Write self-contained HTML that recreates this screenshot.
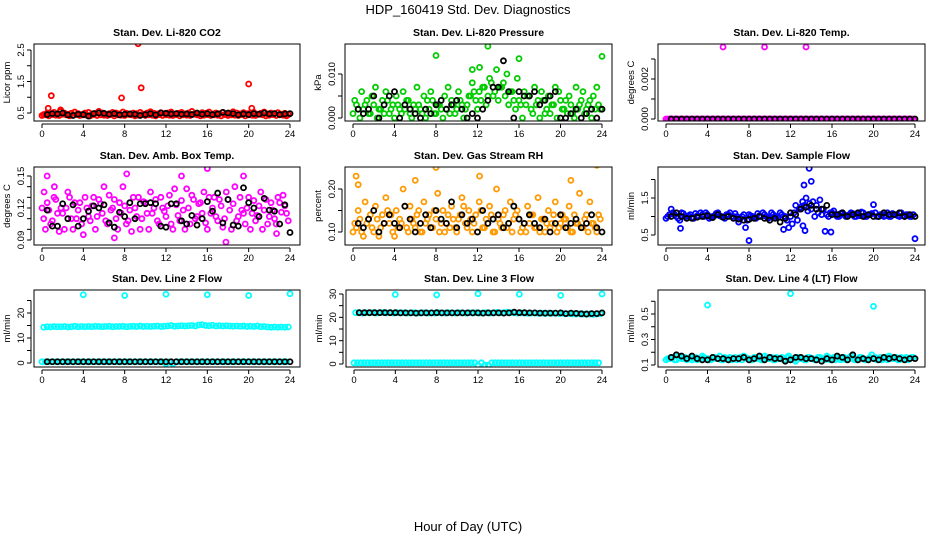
<!DOCTYPE html>
<html><head><meta charset="utf-8"><style>
body{margin:0;background:#fff;}
svg{display:block;font-family:"Liberation Sans",sans-serif;}
</style></head><body>
<svg id="c" width="936" height="540" viewBox="0 0 936 540">
<text x="468" y="14" text-anchor="middle" font-size="13">HDP_160419  Std. Dev. Diagnostics</text>
<text x="468" y="531" text-anchor="middle" font-size="13">Hour of Day (UTC)</text>
</svg>
<script>
// ---- data ----
const xTicks=[0,4,8,12,16,20,24];
const colorStep=1/3, blackStep=0.5, blackStart=0.5;
// P1 CO2
const co2Red=[.45,.5,.48,.52,.47,.55,.5,.46,.49,.53,.48,.45,.5,.52,.47,.49,.55,.5,.46,.48,.52,.5,.47,.53,.49,.45,.5,.48,.52,.46,.5,.54,.49,.47,.51,.48,.5,.53,.46,.49,.52,.47,.5,.55,.48,.46,.51,.49,.53,.47,.5,.48,.52,.46,.49,.54,.5,.47,.51,.48,.5,.52,.46,.49,.53,.47,.5,.48,.51,.46,.49,.45];
const co2Red2=[.42,.44,.41,.45,.43,.42,.46,.44,.41,.43,.45,.42,.44,.43,.41,.45,.42,.44,.43,.42,.45,.41,.44,.43,.42,.46,.44,.41,.43,.45,.42,.44,.43,.41,.45,.42,.44,.43,.42,.45,.41,.44,.43,.42,.46,.44,.41,.43,.45,.42,.44,.43,.41,.45,.42,.44,.43,.42,.45,.41,.44,.43,.42,.46,.44,.41,.43,.45,.42,.44,.43,.41];
const co2OutH=[0.6,0.9,7.7,9.3,9.6,20,20.3,1.8];
const co2OutV=[0.65,1.05,0.98,2.7,1.3,1.42,0.65,0.6];
const co2Black=[.45,.48,.47,.5,.44,.42,.46,.45,.4,.48,.5,.49,.46,.48,.44,.46,.47,.46,.42,.45,.48,.44,.5,.49,.47,.48,.46,.47,.45,.5,.46,.48,.45,.47,.52,.5,.48,.44,.47,.45,.48,.46,.5,.47,.48,.45,.47,.48];
// P2 Pressure
const prsA=[.004,.002,.006,.003,.001,.005,.007,.002,.004,.006,.001,.003,.005,.002,.006,.004,.001,.003,.007,.002,.005,.004,.006,.001,.003,.002,.005,.007,.004,.001,.006,.003,.002,.005,.008,.004,.006,.007,.003,.009,.005,.011,.007,.008,.01,.006,.004,.009,.003,.006,.005,.002,.007,.004,.006,.001,.005,.003,.007,.006,.002,.004,.005,.001,.007,.003,.006,.002,.004,.005,.007,.002];
const prsB=[.001,.003,0,.002,.004,.001,.003,0,.002,.001,.004,.002,0,.003,.001,.002,.004,0,.002,.003,.001,0,.002,.004,.001,.003,0,.002,.001,.003,.002,.004,0,.003,.005,.006,.002,.004,.007,.005,.008,.006,.004,.007,.005,.003,.006,.002,.004,0,.003,.005,.001,.003,0,.004,.002,.001,.003,0,.004,.002,.001,.003,0,.002,.004,.001,.003,0,.002,.003];
const prsOutH=[8,13,16,24,11.5,12.2];
const prsOutV=[.0142,.0163,.0135,.0140,.011,.0115];
const prsBlack=[.002,.001,.002,.005,0,.003,.005,.006,0,.003,.002,.001,0,.002,.001,.003,.004,.002,.003,.004,.002,0,.001,0,.002,.004,.007,.007,.013,.006,0,.006,.005,.005,.006,.003,.004,.005,.006,0,0,.001,.002,0,.001,.002,0,.002];
// P3 Temp
const tmpMag=[0,0,0,0,0,0,0,0,0,0,0,0,0,0,0,0,0,0,0,0,0,0,0,0,0,0,0,0,0,0,0,0,0,0,0,0,0,0,0,0,0,0,0,0,0,0,0,0,0,0,0,0,0,0,0,0,0,0,0,0,0,0,0,0,0,0,0,0,0,0,0,0];
const tmpOutH=[5.5,9.5,13.5];
const tmpOutV=[.0036,.0036,.0036];
const tmpBlack=[0,0,0,0,0,0,0,0,0,0,0,0,0,0,0,0,0,0,0,0,0,0,0,0,0,0,0,0,0,0,0,0,0,0,0,0,0,0,0,0,0,0,0,0,0,0,0,0];
// P4 Amb temp
const ambA=[.11,.125,.105,.13,.115,.12,.1,.135,.11,.125,.118,.105,.13,.112,.122,.1,.128,.115,.108,.132,.12,.11,.125,.14,.105,.118,.13,.112,.1,.126,.115,.135,.12,.108,.13,.117,.122,.105,.138,.113,.127,.1,.12,.132,.11,.124,.115,.106,.13,.12,.112,.128,.102,.135,.118,.124,.108,.13,.115,.12,.1,.127,.113,.135,.118,.105,.125,.11,.13,.116,.122,.108];
const ambB=[.12,.1,.118,.108,.128,.098,.115,.12,.13,.1,.11,.125,.095,.12,.108,.13,.112,.124,.14,.105,.118,.128,.1,.115,.122,.108,.098,.12,.13,.11,.125,.1,.115,.128,.105,.12,.112,.132,.1,.123,.108,.118,.138,.105,.128,.112,.125,.135,.1,.115,.13,.108,.122,.11,.128,.1,.14,.112,.118,.105,.13,.115,.108,.122,.1,.128,.112,.118,.105,.125,.132,.115];
const ambOutH=[0.5,8.2,13.5,16,19.5,7,17.8,0.2,1.2,22.7];
const ambOutV=[.15,.152,.15,.157,.15,.092,.088,.135,.14,.096];
const ambBlack=[.118,.103,.103,.124,.11,.123,.103,.11,.117,.122,.12,.123,.106,.102,.116,.112,.125,.11,.124,.124,.125,.124,.103,.102,.124,.124,.108,.105,.113,.104,.11,.126,.117,.134,.106,.128,.104,.103,.139,.125,.12,.112,.129,.118,.117,.105,.123,.097];
// P5 RH
const rhA=[.12,.15,.1,.17,.13,.11,.16,.09,.14,.18,.12,.1,.15,.13,.2,.11,.16,.12,.14,.1,.17,.13,.11,.15,.19,.12,.1,.14,.16,.11,.13,.18,.12,.15,.1,.14,.17,.11,.13,.16,.1,.2,.12,.14,.11,.17,.13,.15,.1,.12,.16,.14,.11,.18,.13,.1,.15,.12,.17,.11,.14,.13,.16,.1,.12,.19,.11,.14,.17,.12,.1,.13];
const rhB=[.1,.11,.13,.09,.12,.14,.1,.13,.11,.12,.15,.14,.09,.11,.12,.16,.1,.13,.11,.15,.1,.12,.14,.11,.13,.1,.15,.12,.11,.13,.1,.14,.16,.11,.13,.12,.1,.15,.11,.12,.14,.1,.13,.11,.15,.12,.1,.14,.13,.11,.1,.12,.14,.11,.1,.13,.12,.11,.14,.1,.12,.13,.11,.1,.14,.12,.11,.13,.1,.12,.11,.14];
const rhOutH=[0.3,0.5,8,12.2,23.5,6,21];
const rhOutV=[.23,.21,.25,.23,.255,.22,.22];
const rhBlack=[.12,.11,.13,.15,.1,.12,.14,.12,.11,.16,.13,.1,.12,.14,.11,.15,.13,.12,.17,.11,.14,.12,.13,.1,.15,.12,.13,.14,.11,.12,.16,.13,.12,.14,.12,.11,.13,.1,.12,.14,.11,.12,.13,.11,.12,.14,.11,.1];
// P6 Sample flow
const sfA=[1.0,1.2,1.05,.95,1.1,1.0,1.02,.98,1.08,1.0,1.05,1.1,.95,1.0,1.08,1.02,.98,1.05,1.1,1.0,1.0,.95,1.05,.9,1.02,.98,1.08,1.0,1.05,.95,1.1,1.0,.98,1.05,1.0,.7,.8,1.3,1.2,1.4,1.5,1.35,1.4,1.3,1.45,1.2,1.05,1.1,1.15,1.0,1.08,1.05,1.02,1.1,1.0,1.05,1.12,1.0,1.05,1.08,1.1,1.0,1.05,1.02,1.0,1.08,1.05,1.0,1.02,1.05,1.0,1.05];
const sfB=[.95,1.05,1.1,1.0,.9,1.08,1.0,1.05,.95,1.02,1.1,1.0,1.05,.98,1.02,1.1,1.0,.95,1.05,1.0,1.08,.85,1.0,.7,1.05,1.0,.95,1.02,1.1,1.0,.98,1.05,1.0,1.1,.65,.9,1.0,1.1,.9,1.25,1.3,1.15,1.2,1.0,1.1,1.05,.6,1.0,1.1,1.05,1.0,1.1,1.0,1.05,1.08,1.0,1.02,1.1,1.0,1.05,1.32,1.0,1.05,1.0,1.1,1.0,1.05,1.02,1.1,1.0,1.05,1.0];
const sfOutH=[8,24,13.8,14,13.3,1.4,15.9,13.2,13.4];
const sfOutV=[.35,.4,2.3,1.95,1.85,.68,.58,.75,.62];
const sfBlack=[1.0,1.1,1.0,.95,.95,.98,1.0,1.02,.97,1.05,.98,1.0,.95,.93,.9,.92,.95,1.0,.95,.9,.95,.85,.95,1.1,1.05,1.2,1.25,1.3,1.2,1.2,1.3,1.05,1.05,1.1,1.0,1.05,1.1,1.0,1.05,1.0,1.0,1.1,1.05,1.05,1.1,1.0,1.05,1.0];
// P7 Line 2
const l2Cyan=[14.3,14.5,14.4,14.6,14.5,14.5,14.6,14.4,14.5,14.7,14.5,14.6,14.5,14.6,14.5,14.7,14.6,14.5,14.6,14.7,14.5,14.6,14.6,14.7,14.5,14.6,14.7,14.6,14.8,14.6,14.7,14.6,14.7,14.8,14.6,14.7,14.8,15.0,14.7,14.8,14.9,14.8,14.9,15.0,14.8,15.2,15.3,15.0,14.9,15.1,14.8,14.9,14.8,14.9,14.8,14.7,14.8,14.7,14.8,14.6,14.7,14.6,14.8,14.5,14.6,14.4,14.3,14.4,14.3,14.4,14.3,14.4];
const l2CyanLow=[.5,.5,.5,.5,.5,.5,.5,.5,.5,.5,.5,.5,.5,.5,.5,.5,.5,.5,.5,.5,.5,.5,.5,.5,.5,.5,.5,.5,.5,.5,.5,.5,.5,.5,.5,.5,-.3,.5,-.3,.5,.5,.5,.5,.5,.5,.5,.5,.5,.5,.5,.5,.5,.5,.5,.5,.5,.5,.5,.5,.5,.5,.5,.5,.5,.5,.5,.5,.5,.5,.5,.5,.5];
const l2OutH=[4,8,12,16,20,24];
const l2OutV=[27.3,27,27.5,27.3,27,27.7];
const l2Black=[.5,.5,.5,.5,.5,.5,.5,.5,.5,.5,.5,.5,.5,.5,.5,.5,.5,.5,.5,.5,.5,.5,.5,.5,.5,.5,.5,.5,.5,.5,.5,.5,.5,.5,.5,.5,.5,.5,.5,.5,.5,.5,.5,.5,.5,.5,.5,.5];
// P8 Line 3
const l3CyanHi=[22,22,21.8,22,21.9,22,21.8,22,22.1,21.9,22,21.8,22,21.9,22,21.8,21.9,22,21.8,21.9,22,21.8,21.9,21.8,22,21.9,21.8,22,21.9,21.8,22,21.9,21.8,22,21.9,22,21.8,21.9,22,21.8,21.9,22.1,21.9,22,22.2,22,21.9,21.8,21.9,21.8,21.7,21.8,21.9,21.7,21.8,21.6,21.8,21.7,21.8,21.6,21.7,21.5,21.6,21.5,21.4,21.5,21.4,21.5,21.4,21.3,21.4,21.5];
const l3CyanLo=[.5,.5,.5,.5,.5,.5,.5,.5,.5,.5,.5,.5,.5,.5,.5,.5,.5,.5,.5,.5,.5,.5,.5,.5,.5,.5,.5,.5,.5,.5,.5,.5,.5,.5,.5,.5,-.5,.5,-.5,-.5,.5,.5,.5,.5,.5,.5,.5,.5,.5,.5,.5,.5,.5,.5,.5,.5,.5,.5,.5,.5,.5,.5,.5,.5,.5,.5,.5,.5,.5,.5,.5,.5];
const l3OutH=[4,8,12,16,20,24];
const l3OutV=[29.8,29.6,30.1,29.9,29.4,30];
const l3Black=[22,22,22,22,22,22,22,22,21.9,21.9,21.9,21.8,21.9,21.9,21.9,22,21.9,21.9,21.9,21.9,21.9,21.9,21.9,21.9,21.8,21.9,21.9,21.9,21.8,21.9,22.2,22,22,21.9,21.9,21.8,21.8,21.8,21.8,21.9,21.6,21.8,21.7,21.5,21.4,21.6,21.6,21.9];
// P9 Line 4
const l4Cyan=[.15,.16,.14,.17,.15,.16,.15,.14,.16,.15,.17,.15,.14,.16,.15,.17,.14,.15,.16,.15,.14,.16,.17,.15,.14,.16,.15,.14,.17,.15,.16,.14,.15,.16,.14,.17,.15,.13,.16,.15,.14,.16,.15,.14,.16,.15,.17,.14,.16,.15,.14,.16,.15,.17,.14,.15,.16,.14,.15,.18,.16,.15,.14,.16,.17,.15,.16,.14,.15,.16,.15,.16];
const l4Cyan2=[.14,.15,.16,.14,.16,.15,.14,.16,.15,.14,.15,.16,.15,.14,.16,.15,.14,.16,.15,.14,.16,.15,.14,.16,.15,.14,.16,.15,.14,.16,.15,.14,.16,.15,.14,.16,.15,.14,.16,.15,.14,.16,.15,.14,.16,.15,.14,.16,.15,.14,.16,.15,.14,.16,.15,.14,.16,.15,.14,.16,.15,.14,.16,.15,.14,.16,.15,.14,.16,.15,.14,.16];
const l4OutH=[4,12,20];
const l4OutV=[.57,.66,.56];
const l4Black=[.16,.18,.17,.15,.17,.15,.14,.14,.16,.15,.15,.14,.15,.15,.16,.14,.15,.17,.14,.16,.15,.15,.13,.14,.16,.16,.15,.15,.14,.13,.15,.14,.17,.16,.14,.18,.14,.15,.14,.15,.14,.16,.15,.16,.15,.14,.15,.15];

// ---- drawing ----
const NS="http://www.w3.org/2000/svg";
const svg=document.getElementById('c');
function mk(tag,attrs,parent){const e=document.createElementNS(NS,tag);for(const k in attrs)e.setAttribute(k,attrs[k]);(parent||svg).appendChild(e);return e;}

const panels=[
 {key:'co2',title:'Stan. Dev. Li-820 CO2',yl:'Licor ppm',L:34,T:44,R:300,B:121,v0:.5,p0:113,v1:2.5,p1:50,yt:[.5,1,1.5,2,2.5],ylab:{'0.5':'0.5','1.5':'1.5','2.5':'2.5'},col:'#ff0000',
  sets:[co2Red2,co2Red],oh:co2OutH,ov:co2OutV,blk:co2Black},
 {key:'pressure',title:'Stan. Dev. Li-820 Pressure',yl:'kPa',L:345,T:44,R:612,B:121,v0:0,p0:118,v1:.01,p1:74,yt:[0,.005,.01],ylab:{'0':'0.000','0.01':'0.010'},col:'#00cc00',
  sets:[prsB,prsA],oh:prsOutH,ov:prsOutV,blk:prsBlack},
 {key:'temp',title:'Stan. Dev. Li-820 Temp.',yl:'degrees C',L:658,T:44,R:925,B:121,v0:0,p0:119,v1:.002,p1:79,yt:[0,.001,.002,.003],ylab:{'0':'0.000','0.002':'0.002'},col:'#ff00ff',
  sets:[tmpMag,tmpMag],oh:tmpOutH,ov:tmpOutV,blk:tmpBlack},
 {key:'amb',title:'Stan. Dev. Amb. Box Temp.',yl:'degrees C',L:34,T:167,R:300,B:245,v0:.09,p0:240,v1:.15,p1:176,yt:[.09,.1,.11,.12,.13,.14,.15],ylab:{'0.09':'0.09','0.12':'0.12','0.15':'0.15'},col:'#ff00ff',
  sets:[ambB,ambA],oh:ambOutH,ov:ambOutV,blk:ambBlack},
 {key:'rh',title:'Stan. Dev. Gas Stream RH',yl:'percent',L:345,T:167,R:612,B:245,v0:.1,p0:232,v1:.2,p1:189,yt:[.1,.15,.2],ylab:{'0.1':'0.10','0.2':'0.20'},col:'#ff9900',
  sets:[rhB,rhA],oh:rhOutH,ov:rhOutV,blk:rhBlack},
 {key:'sample',title:'Stan. Dev. Sample Flow',yl:'ml/min',L:658,T:167,R:925,B:245,v0:.5,p0:235,v1:1.5,p1:198,yt:[.5,1,1.5,2],ylab:{'0.5':'0.5','1.5':'1.5'},col:'#0000ff',
  sets:[sfB,sfA],oh:sfOutH,ov:sfOutV,blk:sfBlack},
 {key:'line2',title:'Stan. Dev. Line 2 Flow',yl:'ml/min',L:34,T:290,R:300,B:367,v0:0,p0:363,v1:20,p1:313,yt:[0,5,10,15,20,25],ylab:{'0':'0','10':'10','20':'20'},col:'#00ffff',
  sets:[l2CyanLow,l2Cyan],oh:l2OutH,ov:l2OutV,blk:l2Black},
 {key:'line3',title:'Stan. Dev. Line 3 Flow',yl:'ml/min',L:346,T:290,R:612,B:367,v0:0,p0:364,v1:30,p1:294,yt:[0,5,10,15,20,25,30],ylab:{'0':'0','10':'10','20':'20','30':'30'},col:'#00ffff',
  sets:[l3CyanLo,l3CyanHi],oh:l3OutH,ov:l3OutV,blk:l3Black},
 {key:'line4',title:'Stan. Dev. Line 4 (LT) Flow',yl:'ml/min',L:658,T:290,R:925,B:367,v0:.1,p0:365,v1:.5,p1:314,yt:[.1,.2,.3,.4,.5,.6],ylab:{'0.1':'0.1','0.3':'0.3','0.5':'0.5'},col:'#00ffff',
  sets:[l4Cyan2,l4Cyan],oh:l4OutH,ov:l4OutV,blk:l4Black}
];

panels.forEach(p=>{
 const g=mk('g',{});
 
 
 const x0=p.L+8, x1=p.R-10;
 const xs=h=>x0+(x1-x0)*h/24;
 const ys=v=>p.p0+(v-p.v0)*(p.p1-p.p0)/(p.v1-p.v0);
 const t=mk('text',{x:(p.L+p.R)/2,y:p.T-8,'text-anchor':'middle','font-size':'10.5','font-weight':'bold'},g);
 t.textContent=p.title;
 
 
 const cid='clip-'+p.key;
 const cp=mk('clipPath',{id:cid},g);mk('rect',{x:p.L,y:p.T,width:p.R-p.L,height:p.B-p.T},cp);
 const pts=mk('g',{'clip-path':'url(#'+cid+')'},g);
 
 
 p.sets.forEach((arr,si)=>arr.forEach((v,i)=>{
   const c=mk('circle',{cx:xs(i*colorStep+si*colorStep/2),cy:ys(v),r:2.5,fill:'none',stroke:p.col,'stroke-width':1.8},pts);
   
   
 }));
 p.oh.forEach((h,i)=>{
   const c=mk('circle',{cx:xs(h),cy:ys(p.ov[i]),r:2.5,fill:'none',stroke:p.col,'stroke-width':1.8},pts);
   
   
 });
 p.blk.forEach((v,i)=>{
   const c=mk('circle',{cx:xs(blackStart+i*blackStep),cy:ys(v),r:2.5,fill:'none',stroke:'#000','stroke-width':1.8},pts);
   
   
 });
 const bx=mk('rect',{x:p.L,y:p.T,width:p.R-p.L,height:p.B-p.T,fill:'none',stroke:'#000','stroke-width':1},g);
 
 
 const xa=mk('g',{},g);
 
 
 mk('line',{x1:xs(0),x2:xs(24),y1:p.B+3,y2:p.B+3,stroke:'#000'},xa);
 xTicks.forEach(h=>{
   mk('line',{x1:xs(h),x2:xs(h),y1:p.B+3,y2:p.B+7,stroke:'#000'},xa);
   const tl=mk('text',{x:xs(h),y:p.B+16,'text-anchor':'middle','font-size':'9.5'},xa);
   tl.textContent=h;
 });
 const ya=mk('g',{},g);
 
 
 mk('line',{x1:p.L-3,x2:p.L-3,y1:ys(p.yt[0]),y2:ys(p.yt[p.yt.length-1]),stroke:'#000'},ya);
 p.yt.forEach(v=>{
   const y=ys(v);
   mk('line',{x1:p.L-7,x2:p.L-3,y1:y,y2:y,stroke:'#000'},ya);
   const key=String(+v.toFixed(4));
   if(p.ylab[key]!==undefined){
     const tl=mk('text',{x:p.L-10,y:y,'text-anchor':'middle','font-size':'9.5',transform:'rotate(-90 '+(p.L-10)+' '+y+')'},ya);
     tl.textContent=p.ylab[key];
   }
 });
 const yt=mk('text',{x:p.L-24,y:(p.T+p.B)/2,'text-anchor':'middle','font-size':'9.5',transform:'rotate(-90 '+(p.L-24)+' '+((p.T+p.B)/2)+')'},g);
 yt.textContent=p.yl;
 
 
});
</script>
</body></html>
